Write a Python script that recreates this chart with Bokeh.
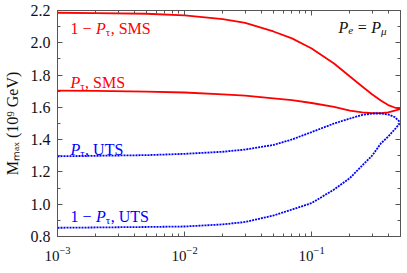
import math
from bokeh.plotting import figure
from bokeh.models import (Range1d, LogAxis, LinearAxis, LogTicker, SingleIntervalTicker,
                          PrintfTickFormatter, CustomJSTickFormatter, Label)
from bokeh.embed import file_html
from bokeh.resources import INLINE

# ---- data ----
p_tau = [0.001, 0.002, 0.005, 0.01, 0.02, 0.03, 0.05, 0.07, 0.1, 0.15,
         0.2, 0.25, 0.3, 0.35, 0.4, 0.45, 0.5]
sms_one_minus = [2.186, 2.184, 2.180, 2.170, 2.147, 2.123, 2.070, 2.027, 1.965, 1.872,
                 1.791, 1.729, 1.680, 1.642, 1.614, 1.599, 1.591]
sms_p = [1.704, 1.702, 1.698, 1.692, 1.681, 1.673, 1.656, 1.645, 1.627, 1.603,
         1.580, 1.569, 1.564, 1.564, 1.569, 1.579, 1.591]
uts_p = [1.297, 1.300, 1.304, 1.312, 1.325, 1.339, 1.367, 1.401, 1.447, 1.500,
         1.531, 1.553, 1.562, 1.562, 1.556, 1.540, 1.506]
uts_one_minus = [0.854, 0.856, 0.859, 0.862, 0.875, 0.890, 0.930, 0.967, 1.007, 1.091,
                 1.162, 1.240, 1.302, 1.376, 1.419, 1.463, 1.506]

RED = "#ff0000"
BLUE = "#0000ff"
AX = "#555555"
FONT = "Liberation Serif"
TXT = "#111111"

p = figure(width=407, height=273, x_axis_type="log",
           x_range=Range1d(1e-3, 0.5), y_range=Range1d(0.8, 2.2),
           output_backend="svg", toolbar_location=None,
           min_border_left=57, min_border_right=7, min_border_top=10, min_border_bottom=37)
p.xgrid.visible = False
p.ygrid.visible = False
p.outline_line_color = None
p.background_fill_color = "white"

p.line(p_tau, sms_one_minus, line_color=RED, line_width=1.8)
p.line(p_tau, sms_p, line_color=RED, line_width=1.8)
p.line(p_tau, uts_p, line_color=BLUE, line_width=1.8, line_dash="2 1")
p.line(p_tau, uts_one_minus, line_color=BLUE, line_width=1.8, line_dash="2 1")


def style_axis(ax, labels=True):
    ax.axis_line_color = AX
    ax.axis_line_width = 1
    ax.major_tick_line_color = AX
    ax.minor_tick_line_color = AX
    ax.major_tick_in = 5
    ax.major_tick_out = 0
    ax.minor_tick_in = 3
    ax.minor_tick_out = 0
    ax.major_label_text_font = FONT
    ax.major_label_text_color = TXT
    if not labels:
        ax.formatter = CustomJSTickFormatter(code="return ''")
        ax.major_label_standoff = 0


xticker = LogTicker(num_minor_ticks=10)
yticker = SingleIntervalTicker(interval=0.2, num_minor_ticks=2)

xa = p.xaxis[0]
xa.ticker = xticker
style_axis(xa)
xa.major_label_text_font_size = "15px"
xa.major_label_standoff = 10

ya = p.yaxis[0]
ya.ticker = yticker
ya.formatter = PrintfTickFormatter(format="%.1f")
style_axis(ya)
ya.major_label_text_font_size = "16px"
ya.major_label_standoff = 7
ya.axis_label = "Mₘₐₓ (10⁹ GeV)"
ya.axis_label_text_font = FONT
ya.axis_label_text_font_size = "16px"
ya.axis_label_text_font_style = "normal"
ya.axis_label_text_color = TXT
ya.axis_label_standoff = 7

top = LogAxis(ticker=xticker)
style_axis(top, labels=False)
p.add_layout(top, "above")
right = LinearAxis(ticker=yticker)
style_axis(right, labels=False)
p.add_layout(right, "right")

# ---- rich text helper (italic symbols, sub/superscripts) ----
W_REG = {'1': 500, ' ': 250, '−': 564, ',': 250, 'S': 556, 'M': 889, 'U': 722,
         'T': 611, '=': 564}
W_IT = {'P': 611, 'e': 444}
W_GR = {'τ': 440, 'μ': 520}


def twidth(text, size, italic):
    tab = W_IT if italic else W_REG
    return sum(tab.get(c, W_GR.get(c, 500)) for c in text) * size / 1000.0


def rich(x, y, x_off, segs, color):
    # segs: (text, font size, italic, baseline shift, gap before in px)
    pos = 0.0
    for text, size, italic, shift, gap in segs:
        pos += gap
        p.add_layout(Label(x=x, y=y, x_offset=x_off + pos, y_offset=shift, text=text,
                           text_font=FONT, text_font_size=f"{size}px",
                           text_font_style="italic" if italic else "normal",
                           text_color=color, text_baseline="alphabetic",
                           text_align="left"))
        pos += twidth(text, size, italic)


S, s = 16, 11
sp = 4.5
rich(1e-3, 2.0885, 13, [("1 −", S, False, 0, 0), ("P", S, True, 0, sp), ("τ", s, False, -3.5, 0),
                        (", SMS", S, False, 0, 0)], RED)
rich(1e-3, 1.754, 13, [("P", S, True, 0, 0), ("τ", s, False, -3.5, 0),
                       (", SMS", S, False, 0, 0)], RED)
rich(1e-3, 1.339, 13, [("P", S, True, 0, 0), ("τ", s, False, -3.5, 0),
                       (", UTS", S, False, 0, 0)], BLUE)
rich(1e-3, 0.924, 13, [("1 −", S, False, 0, 0), ("P", S, True, 0, sp), ("τ", s, False, -3.5, 0),
                       (", UTS", S, False, 0, 0)], BLUE)
rich(1e-3, 2.095, 281, [("P", S, True, 0, 0), ("e", s, True, -3.5, 0), ("=", S, False, 0, sp),
                        ("P", S, True, 0, sp), ("μ", s, True, -3.5, 0)], TXT)

open("out.html", "w").write(file_html(p, INLINE))
